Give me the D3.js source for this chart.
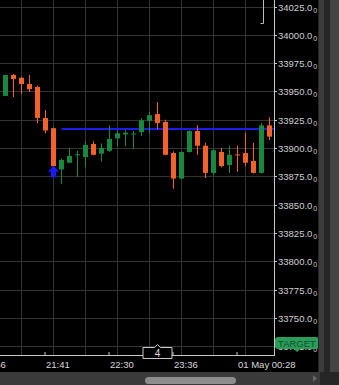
<!DOCTYPE html>
<html>
<head>
<meta charset="utf-8">
<script src="https://cdn.jsdelivr.net/npm/d3@7"></script>
<style>
  body { margin: 0; background: #000; }
  svg { display: block; font-family: "Liberation Sans", Arial, sans-serif; }
</style>
</head>
<body>
<div class="chart"></div>
<script>
// OHLC values, one entry per bar
const opens  = [33946, 33964.5, 33962, 33956.5, 33954, 33926.5, 33917.5, 33881, 33887, 33894, 33892, 33903.5, 33895, 33897.5, 33908.5, 33912, 33912.5, 33914, 33924, 33930, 33923, 33895.5, 33873, 33896.5, 33915, 33902, 33878, 33896.5, 33885, 33894.3, 33895.5, 33888.5, 33878, 33920];
const highs  = [33964.5, 33965.5, 33962.7, 33964.5, 33955, 33933.5, 33918, 33890.5, 33900, 33897.5, 33906, 33906, 33904, 33920, 33916, 33916, 33915, 33926.5, 33932, 33940.5, 33925, 33897, 33897, 33915.5, 33920, 33904.5, 33899, 33900, 33902, 33902, 33913, 33904.5, 33922, 33927];
const lows   = [33946, 33945, 33947.7, 33949.5, 33922, 33913, 33880, 33868, 33886.8, 33874.5, 33883, 33893.5, 33888, 33896.5, 33901.5, 33901.5, 33899, 33910.5, 33913, 33916.5, 33893.5, 33864, 33872.5, 33896, 33894, 33873.5, 33876, 33883, 33878, 33879, 33884, 33877.5, 33877.5, 33907];
const closes = [33964.5, 33961, 33956.5, 33952, 33926.5, 33915.5, 33884, 33889.5, 33893, 33894.5, 33902.7, 33894, 33900, 33908, 33913, 33913.5, 33912.8, 33924.5, 33929, 33922, 33894, 33873, 33896.5, 33915, 33902, 33878, 33898, 33884, 33894, 33893.8, 33887, 33878, 33920, 33910];

const priceTicks = [33725, 33750, 33775, 33800, 33825, 33850, 33875, 33900, 33925, 33950, 33975, 34000, 34025];
const timeTickIdx = [-3, 5, 13, 21, 29];
const timeTickLabels = ["20:56", "21:41", "22:30", "23:36", "01 May 00:28"];

const targetLevel = 33917;   // blue horizontal line
const targetStart = 7;       // bar where the line starts
const arrowBar = 6;          // blue arrow below this bar

const width = 339, height = 385;
const plotRight = 274, axisY = 355;
const green = "#17893f", orange = "#f4622a";

const bars = opens.map((o, i) => ({i: i, o: o, h: highs[i], l: lows[i], c: closes[i]}));

const svg = d3.select('.chart')
  .append('svg')
  .attr('width', width)
  .attr('height', height);

svg.append('rect').attr('width', width).attr('height', height).attr('fill', '#000');

const x = d3.scaleLinear().domain([0, 33]).range([5.5, 269.5]);
const y = d3.scaleLinear().domain([33750, 34025]).range([317.8, 6.5]);

svg.append('clipPath').attr('id', 'plot')
  .append('rect').attr('width', plotRight).attr('height', axisY);

const plot = svg.append('g').attr('clip-path', 'url(#plot)');

// grid
plot.selectAll('.hgrid')
  .data(priceTicks)
  .enter().append('line')
  .attr('x1', 0).attr('x2', plotRight)
  .attr('y1', d => Math.round(y(d)) + 0.5).attr('y2', d => Math.round(y(d)) + 0.5)
  .attr('stroke', '#333');

plot.selectAll('.vgrid')
  .data(d3.range(-2, 34, 4))
  .enter().append('line')
  .attr('x1', d => x(d)).attr('x2', d => x(d))
  .attr('y1', 0).attr('y2', axisY)
  .attr('stroke', '#333');

// target line
plot.append('line')
  .attr('x1', x(targetStart)).attr('x2', plotRight)
  .attr('y1', Math.round(y(targetLevel))).attr('y2', Math.round(y(targetLevel)))
  .attr('stroke', '#1c1ce6')
  .attr('stroke-width', 2);

// candles
const candle = plot.selectAll('.candle')
  .data(bars)
  .enter().append('g')
  .attr('fill', d => d.c >= d.o ? green : orange)
  .attr('stroke', d => d.c >= d.o ? green : orange);

candle.append('line')
  .attr('x1', d => x(d.i)).attr('x2', d => x(d.i))
  .attr('y1', d => y(d.h)).attr('y2', d => y(d.l));

candle.append('rect')
  .attr('stroke', 'none')
  .attr('x', d => x(d.i) - 2.5)
  .attr('width', 5)
  .attr('y', d => y(Math.max(d.o, d.c)))
  .attr('height', d => Math.max(1, Math.abs(y(d.o) - y(d.c))));

// blue arrow under the low bar
const ax = x(arrowBar), ay = y(lows[arrowBar]) - 5;
plot.append('path')
  .attr('d', `M${ax},${ay} l5.5,6 h-3 v5.5 h-5 v-5.5 h-3 z`)
  .attr('fill', '#1a1aff');

// bracket near the top right
const bx = x(32) + 2;
plot.append('path')
  .attr('d', `M${bx},0 V${Math.round(y(34010)) + 0.5} H${bx - 3}`)
  .attr('fill', 'none')
  .attr('stroke', '#bbb');

// price axis
svg.append('line')
  .attr('x1', plotRight + 0.5).attr('x2', plotRight + 0.5)
  .attr('y1', 0).attr('y2', axisY)
  .attr('stroke', '#c8c8c8');

const yTick = svg.selectAll('.ytick')
  .data(priceTicks)
  .enter().append('g')
  .attr('transform', d => `translate(${plotRight},${Math.round(y(d)) + 0.5})`);

yTick.append('line').attr('x1', 0).attr('x2', 3).attr('stroke', '#c8c8c8');

const yText = yTick.append('text')
  .attr('x', 4).attr('dy', '0.35em')
  .attr('font-size', 9.5)
  .attr('fill', '#d0d0d0');
yText.append('tspan').text(d => d3.format('.1f')(d));
yText.append('tspan').attr('font-size', 7).attr('dx', 1).attr('dy', 2).text('0');

// time axis
svg.append('line')
  .attr('x1', 0).attr('x2', plotRight + 1)
  .attr('y1', axisY + 0.5).attr('y2', axisY + 0.5)
  .attr('stroke', '#c8c8c8');

const xTick = svg.selectAll('.xtick')
  .data(timeTickIdx)
  .enter().append('g')
  .attr('transform', d => `translate(${x(d) - 0.5},${axisY})`);

xTick.append('line').attr('y1', -3).attr('y2', 0).attr('stroke', '#c8c8c8');
xTick.append('text')
  .attr('x', 1).attr('y', 13)
  .attr('font-size', 9.5)
  .attr('fill', '#d8d8d8')
  .text((d, i) => timeTickLabels[i]);

// bar count tag
const tx = x(19);
svg.append('path')
  .attr('d', `M${tx - 14.5},${347.5} H${tx - 3} l3,-3 l3,3 H${tx + 14.5} V${358.5} H${tx - 14.5} Z`)
  .attr('fill', '#000')
  .attr('stroke', '#c8c8c8');
svg.append('text')
  .attr('x', tx).attr('y', 356.5)
  .attr('text-anchor', 'middle')
  .attr('font-size', 10)
  .attr('fill', '#ddd')
  .text('4');

// target label
svg.append('rect')
  .attr('x', 275).attr('y', 337).attr('width', 44).attr('height', 12).attr('rx', 3)
  .attr('fill', '#2b9d5a');
svg.append('path')
  .attr('d', 'M294,349 h6 l-3,3 z')
  .attr('fill', '#2b9d5a');
svg.append('text')
  .attr('x', 297).attr('y', 346.5)
  .attr('text-anchor', 'middle')
  .attr('font-size', 9.5)
  .attr('fill', '#0f4d28')
  .text('TARGET');

// side panel and scrollbar
svg.append('rect').attr('x', 318).attr('y', 0).attr('width', 21).attr('height', height).attr('fill', '#262626');
svg.append('rect').attr('x', 319).attr('y', 0).attr('width', 5).attr('height', 372).attr('fill', '#3c3c3c');
svg.append('rect').attr('x', 330).attr('y', 0).attr('width', 9).attr('height', 372).attr('fill', '#444');
svg.append('rect').attr('x', 0).attr('y', 372).attr('width', 320).attr('height', 13).attr('fill', '#3a3a3a');
svg.append('rect').attr('x', 145).attr('y', 377).attr('width', 91).attr('height', 7).attr('rx', 3.5).attr('fill', '#8c8c8c');
svg.append('path').attr('d', 'M313,375 l4,3.5 l-4,3.5 z').attr('fill', '#666');
</script>
</body>
</html>
